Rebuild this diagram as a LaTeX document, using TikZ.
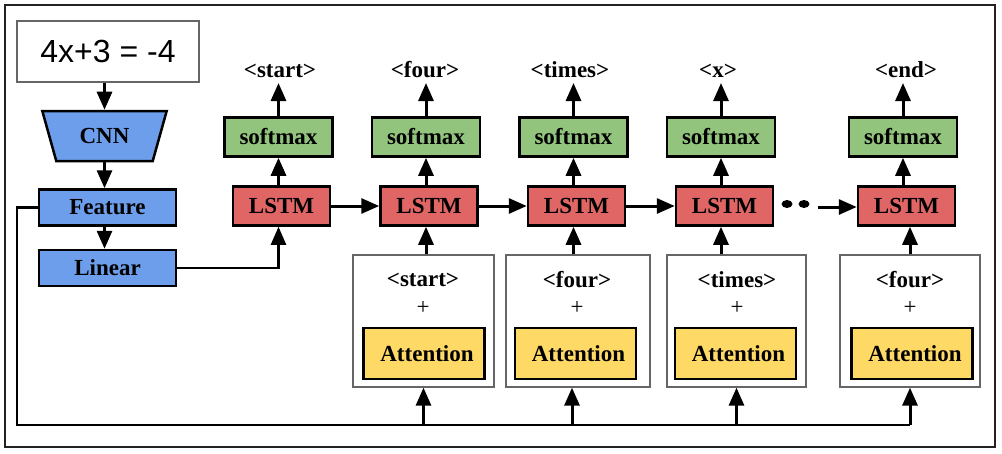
\documentclass[tikz,border=0pt]{standalone}
\usepackage{fontspec}
\setmainfont{Liberation Serif}
\newfontfamily\eqfont{Liberation Sans}
\usetikzlibrary{arrows.meta,shapes.geometric}
\definecolor{cblue}{HTML}{6D9EEB}
\definecolor{cgreen}{HTML}{93C47D}
\definecolor{cred}{HTML}{E06666}
\definecolor{cyellow}{HTML}{FFD966}
\definecolor{cframe}{HTML}{222222}
\definecolor{cgray}{HTML}{666666}
\begin{document}
\begin{tikzpicture}[x=1pt,y=-1pt,
  lbl/.style={inner sep=0pt, font=\fontsize{23}{27}\selectfont\bfseries},
  box/.style={lbl, draw=black, line width=2.5pt},
  bluebox/.style={box, fill=cblue, minimum width=137, minimum height=36},
  smbox/.style={box, fill=cgreen, minimum width=108, minimum height=39},
  lstmbox/.style={box, fill=cred, minimum width=97, minimum height=39},
  attbox/.style={box, fill=cyellow, minimum width=121, minimum height=51},
  ctxbox/.style={draw=cgray, line width=1.3pt, fill=white, minimum height=132, inner sep=0pt},
  outlbl/.style={lbl, anchor=base, text depth=0pt, outer sep=6pt},
  plus/.style={inner sep=0pt, font=\fontsize{23}{27}\selectfont},
  arr/.style={line width=3pt, -{Triangle[length=18pt,width=15pt]}},
  line/.style={line width=2.2pt},
  dot/.style={ellipse, fill=black, minimum width=11pt, minimum height=8pt, inner sep=0pt}
]
\useasboundingbox (0,0) rectangle (1002,453);
\draw[cframe, line width=2pt] (5,5) rectangle (995,447);

% left column
\node[draw=cgray, line width=1.3pt, minimum width=182, minimum height=61, inner sep=0pt,
      font=\eqfont\fontsize{32}{36}\selectfont] (eq) at (108,51.5) {4x+3 = -4};
\node[box, fill=cblue, trapezium, trapezium stretches=true, shape border rotate=180,
      trapezium left angle=65, trapezium right angle=65,
      minimum width=125, minimum height=50] (cnn) at (104.5,136) {CNN};
\node[bluebox] (feature) at (107.5,207.5) {Feature};
\node[bluebox] (linear) at (107.5,268) {Linear};

\draw[arr] (eq.south -| cnn.north) -- (cnn.north);
\draw[arr] (cnn.south) -- (cnn.south |- feature.north);
\draw[arr] (feature.south -| cnn.south) -- (cnn.south |- linear.north);

% softmax row
\node[smbox] (sm1) at (278.5,137) {softmax};
\node[smbox] (sm2) at (426,137) {softmax};
\node[smbox] (sm3) at (573.5,137) {softmax};
\node[smbox] (sm4) at (721,137) {softmax};
\node[smbox] (sm5) at (903,137) {softmax};

% LSTM row
\node[lstmbox] (l1) at (281.5,206) {LSTM};
\node[lstmbox] (l2) at (429,206) {LSTM};
\node[lstmbox] (l3) at (576.5,206) {LSTM};
\node[lstmbox] (l4) at (724.5,206) {LSTM};
\node[lstmbox] (l5) at (906.5,206) {LSTM};

% output labels
\node[outlbl] (o1) at (280,77) {<start>};
\node[outlbl] (o2) at (425,77) {<four>};
\node[outlbl] (o3) at (570,77) {<times>};
\node[outlbl] (o4) at (718,77) {<x>};
\node[outlbl] (o5) at (906,77) {<end>};

\foreach \i in {1,...,5}{
  \draw[arr] (l\i.north -| sm\i.south) -- (sm\i.south);
  \draw[arr] (sm\i.north) -- (sm\i.north |- o\i.south);
}

% recurrent arrows
\draw[arr] (l1.east) -- (l2.west);
\draw[arr] (l2.east) -- (l3.west);
\draw[arr] (l3.east) -- (l4.west);
\node[dot] (d1) at (787,204) {};
\node[dot] (d2) at (804,204) {};
\coordinate (ds) at (818,207);
\draw[arr] (ds) -- (ds -| l5.west);

% context boxes
\node[ctxbox, minimum width=141] (c1) at (423.5,321) {};
\node[ctxbox, minimum width=144] (c2) at (578,321) {};
\node[ctxbox, minimum width=139] (c3) at (736.5,321) {};
\node[ctxbox, minimum width=140] (c4) at (910,321) {};

\node[lbl] (t1) at (423,280) {<start>};
\node[lbl] (t2) at (577,280) {<four>};
\node[lbl] (t3) at (737,280) {<times>};
\node[lbl] (t4) at (910,280) {<four>};
\node[plus] (p1) at (423,308) {+};
\node[plus] (p2) at (577,308) {+};
\node[plus] (p3) at (737,308) {+};
\node[plus] (p4) at (910,308) {+};

\node[attbox] (a1) at (424,353.5) {\hspace*{6pt}Attention};
\node[attbox] (a2) at (575.5,353.5) {\hspace*{6pt}Attention};
\node[attbox] (a3) at (735.5,353.5) {\hspace*{6pt}Attention};
\node[attbox] (a4) at (912,353.5) {\hspace*{6pt}Attention};

% context to LSTM
\draw[arr] (c1.north -| sm2.south) -- (l2.south -| sm2.south);
\draw[arr] (c2.north -| sm3.south) -- (l3.south -| sm3.south);
\draw[arr] (c3.north -| sm4.south) -- (l4.south -| sm4.south);
\draw[arr] (c4.north) -- (c4.north |- l5.south);

% linear to first LSTM
\draw[arr, line width=2.2pt] (linear.east) -- (linear.east -| sm1.south) -- (l1.south -| sm1.south);

% feature to attention bus
\coordinate (bl) at (17,425);
\coordinate (b2) at (572,425);
\draw[line] (feature.west) -- (feature.west -| bl) -- (bl) -- (bl -| c4.south);
\draw[arr] (bl -| c1.south) -- (c1.south);
\draw[arr] (b2) -- (b2 |- c2.south);
\draw[arr] (bl -| c3.south) -- (c3.south);
\draw[arr] (bl -| c4.south) -- (c4.south);
\end{tikzpicture}
\end{document}
